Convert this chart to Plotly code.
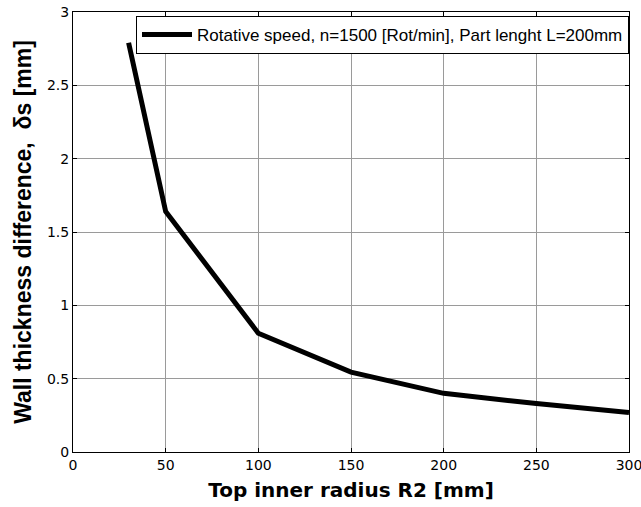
import plotly.graph_objects as go

radius_r2 = [30, 50, 100, 150, 200, 250, 300]
wall_diff = [2.79, 1.64, 0.81, 0.545, 0.40, 0.33, 0.27]
series_name = "Rotative speed, n=1500 [Rot/min], Part lenght L=200mm"
x_ticks = [0, 50, 100, 150, 200, 250, 300]
y_ticks = [0, 0.5, 1, 1.5, 2, 2.5, 3]
y_tick_text = ["0", "0.5", "1", "1.5", "2", "2.5", "3"]

fig = go.Figure()
fig.add_trace(go.Scatter(x=radius_r2, y=wall_diff, mode="lines", name=series_name,
                         line=dict(color="black", width=5)))

axis_common = dict(showline=True, linecolor="black", linewidth=1, mirror="ticks",
                   ticks="inside", ticklen=4, tickcolor="black",
                   showgrid=True, gridcolor="#9a9a9a", gridwidth=1, zeroline=False,
                   automargin=False, ticklabeloverflow="allow",
                   tickfont=dict(family="DejaVu Sans", size=14, color="black"))

fig.update_layout(
    width=641, height=507,
    paper_bgcolor="white", plot_bgcolor="white",
    margin=dict(l=73, r=12, t=12, b=55),
    font=dict(family="Liberation Sans, Arial", color="black"),
    showlegend=True,
    legend=dict(x=1, y=0.991, xanchor="right", yanchor="top",
                bordercolor="black", borderwidth=1, bgcolor="white",
                font=dict(family="Liberation Sans, Arial", size=17, color="black"),
                itemwidth=50, tracegroupgap=0),
    xaxis=dict(range=[0, 300], tickvals=x_ticks,
               title=dict(text="<b>Top inner radius R2 [mm]</b>",
                          font=dict(family="DejaVu Sans", size=20), standoff=11),
               **axis_common),
    yaxis=dict(range=[0, 3], tickvals=y_ticks, ticktext=y_tick_text,
               title=dict(text="<b>Wall thickness difference,\u00a0\u00a0δs [mm]</b>",
                          font=dict(family="Liberation Sans, Arial", size=23), standoff=8),
               **axis_common),
)

# remove the page's default 8px body margin so the figure fills the window
fig.write_html("out.html", config={"displayModeBar": False},
               post_script="document.body.style.margin='0px';")
